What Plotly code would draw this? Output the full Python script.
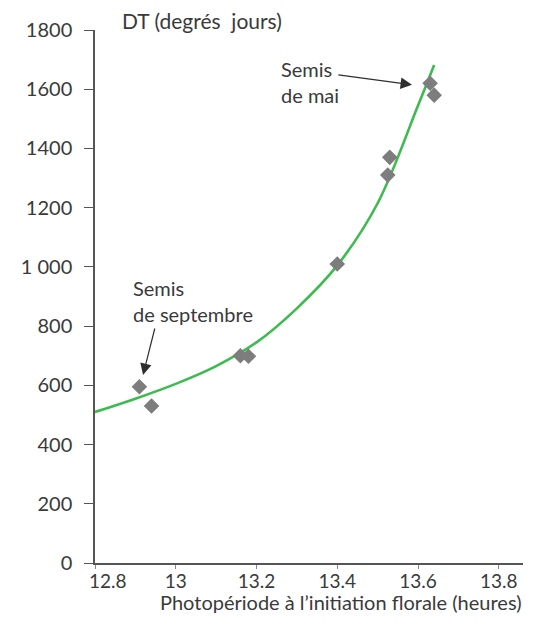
import plotly.graph_objects as go

# Observed points: photoperiod at floral initiation (h) vs. thermal time (degree-days)
photoperiod = [12.91, 12.94, 13.16, 13.18, 13.40, 13.525, 13.53, 13.63, 13.64]
thermal_time = [595, 530, 700, 698, 1010, 1310, 1370, 1620, 1580]

# Fitted response curve
fit_x = [12.80, 12.90, 13.00, 13.10, 13.20, 13.30, 13.40, 13.50, 13.60, 13.64]
fit_y = [510, 555, 605, 665, 745, 860, 1005, 1215, 1545, 1682]

x_ticks = [12.8, 13.0, 13.2, 13.4, 13.6, 13.8]
x_ticktext = ["12.8", "13", "13.2", "13.4", "13.6", "13.8"]
y_ticks = [0, 200, 400, 600, 800, 1000, 1200, 1400, 1600, 1800]
y_ticktext = ["0", "200", "400", "600", "800", "1 000", "1200", "1400", "1600", "1800"]

FONT = "Lato, 'Open Sans', sans-serif"
TEXT = "#3a3a3a"
AXIS = "#555555"
ARROW = "#2f2f2f"

fig = go.Figure()
fig.add_trace(go.Scatter(
    x=fit_x, y=fit_y, mode="lines",
    line=dict(color="#3dbb4f", width=2.6, shape="spline", smoothing=1.0),
    hoverinfo="skip", showlegend=False,
))
fig.add_trace(go.Scatter(
    x=photoperiod, y=thermal_time, mode="markers",
    marker=dict(symbol="diamond", size=12, color="#7d7d7d"),
    showlegend=False,
))

# Labels for the two sowing dates, with pointer arrows
fig.add_annotation(x=13.255, y=1716, xref="x", yref="y", xanchor="left", yanchor="top",
                   align="left", text="Semis<br>de mai", showarrow=False,
                   font=dict(family=FONT, size=20, color=TEXT))
fig.add_annotation(x=13.585, y=1615, ax=13.399, ay=1649, xref="x", yref="y",
                   axref="x", ayref="y", text="", showarrow=True,
                   arrowhead=2, arrowsize=1.9, arrowwidth=1.2, arrowcolor=ARROW,
                   standoff=0, startstandoff=0)
fig.add_annotation(x=12.89, y=976, xref="x", yref="y", xanchor="left", yanchor="top",
                   align="left", text="Semis<br>de septembre", showarrow=False,
                   font=dict(family=FONT, size=20, color=TEXT))
fig.add_annotation(x=12.919, y=635, ax=12.949, ay=797, xref="x", yref="y",
                   axref="x", ayref="y", text="", showarrow=True,
                   arrowhead=2, arrowsize=1.9, arrowwidth=1.2, arrowcolor=ARROW,
                   standoff=0, startstandoff=0)

# Axis titles
fig.add_annotation(x=(120 - 95) / 428, y=1.0 + 9 / 533, xref="paper", yref="paper",
                   xanchor="left", yanchor="middle", text="DT (degrés&nbsp;&nbsp;jours)",
                   showarrow=False, font=dict(family=FONT, size=21, color=TEXT))
fig.add_annotation(x=1.0, y=-0.047, xref="paper", yref="paper", xanchor="right", yanchor="top",
                   text="Photopériode à l\u2019initiation florale (heures)", showarrow=False,
                   font=dict(family=FONT, size=20, color=TEXT))

# First x tick label is nudged right, clear of the vertical axis
fig.add_annotation(x=x_ticks[0], y=0, xref="x", yref="paper", xanchor="center", yanchor="top",
                   xshift=13, yshift=-4, text=x_ticktext[0], showarrow=False,
                   font=dict(family=FONT, size=19, color=TEXT))
x_ticktext_axis = [""] + x_ticktext[1:]

fig.update_xaxes(range=[12.8, 13.86], tickvals=x_ticks, ticktext=x_ticktext_axis,
                 showline=True, linecolor=AXIS, linewidth=1.5, ticks="outside",
                 ticklen=4, tickwidth=1, tickcolor="#888888", showgrid=False, zeroline=False,
                 ticklabelstandoff=-4,
                 tickfont=dict(family=FONT, size=19, color=TEXT))
fig.update_yaxes(range=[0, 1800], tickvals=y_ticks, ticktext=y_ticktext,
                 showline=True, linecolor=AXIS, linewidth=1.5, ticks="outside",
                 ticklen=9, tickwidth=1.2, tickcolor=AXIS, showgrid=False, zeroline=False,
                 ticklabelstandoff=8,
                 tickfont=dict(family=FONT, size=20, color=TEXT))

fig.update_layout(width=536, height=633, margin=dict(l=95, r=13, t=30, b=70),
                  plot_bgcolor="white", paper_bgcolor="white")

fig.write_html("out.html")
